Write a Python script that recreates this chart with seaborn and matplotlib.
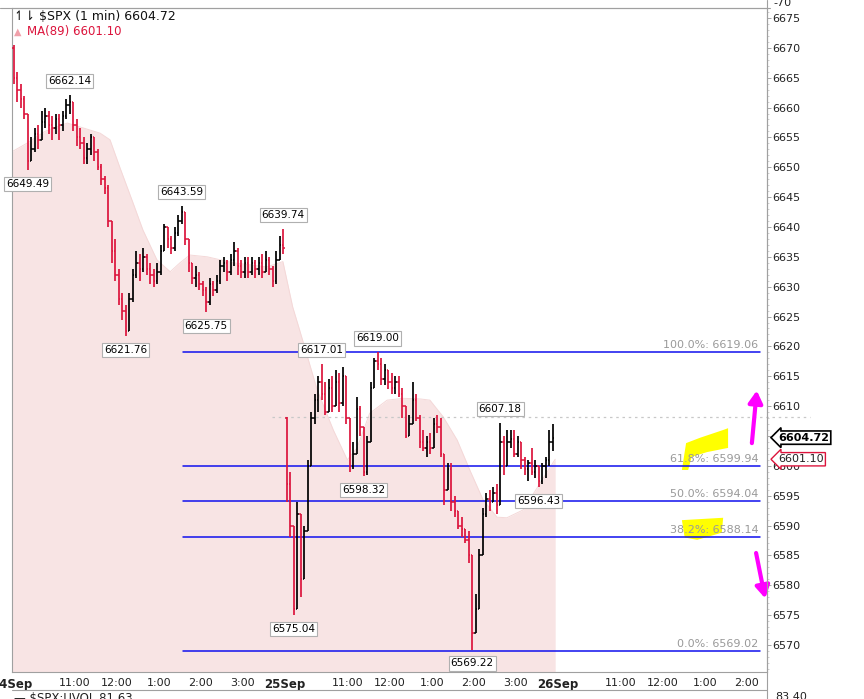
import numpy as np
import pandas as pd
import seaborn as sns
import matplotlib.pyplot as plt
from matplotlib.lines import Line2D
from matplotlib.ticker import MultipleLocator

# $SPX, 5-minute bars. 24 Sep session
day1_open = 6670
day1_close = [6665, 6663, 6661.5, 6659, 6651, 6653, 6655.5, 6654.5, 6657.5, 6658.5,
              6657, 6656.5, 6658, 6657, 6658.5, 6660.5, 6661, 6657, 6655, 6654,
              6651.5, 6653, 6655, 6652.5, 6650, 6648, 6646.5, 6641, 6636, 6632,
              6628, 6626, 6622.5, 6628, 6632, 6634, 6633, 6635, 6633, 6632,
              6631, 6632.5, 6636, 6640, 6638, 6636.5, 6639, 6641, 6642.5, 6638,
              6634, 6631.5, 6632, 6630.5, 6629.5, 6627.5, 6630.5, 6629.5, 6631, 6633.5,
              6634, 6632.5, 6634.5, 6636, 6633.5, 6632.5, 6634, 6632.5, 6634, 6633,
              6634, 6632.5, 6634.5, 6633, 6631, 6634.5, 6637, 6636.5]
day1_high = [6670.5, 6666, 6664, 6662, 6659, 6655, 6656.5, 6657, 6659.5, 6660,
             6659.5, 6658.5, 6659, 6659, 6659.5, 6661.5, 6662.14, 6661, 6658, 6656.5,
             6655, 6654, 6655.5, 6655, 6653, 6650.5, 6648.5, 6647, 6641, 6638,
             6633, 6629, 6627, 6629, 6633, 6636, 6635.5, 6636.5, 6635.5, 6634,
             6633, 6634, 6637, 6640.5, 6640, 6638.5, 6640, 6642, 6643.59, 6642.5,
             6638, 6634, 6633.5, 6632.5, 6631, 6630, 6631.5, 6631, 6632, 6634.5,
             6635, 6634.5, 6635.5, 6637.5, 6636.5, 6634.5, 6635, 6635, 6635, 6634.5,
             6635, 6635.5, 6636, 6635, 6633.5, 6636, 6638.5, 6639.74]
day1_low = [6664, 6661, 6660, 6658, 6649.49, 6651, 6652.5, 6653, 6654.5, 6656.5,
            6655.5, 6654.5, 6655.5, 6654.5, 6656, 6658, 6659, 6656, 6653.5, 6653,
            6650.5, 6650.5, 6652, 6651, 6649.5, 6647, 6645.5, 6640, 6634, 6631,
            6627, 6624.5, 6621.76, 6622.5, 6627.5, 6631.5, 6631, 6632.5, 6632, 6630.5,
            6630, 6630.5, 6632, 6636, 6636.5, 6635.5, 6636, 6638.5, 6640.5, 6637,
            6632.5, 6630.5, 6630, 6629.5, 6628.5, 6625.75, 6627, 6628.5, 6629, 6630.5,
            6632.5, 6631, 6632, 6633.5, 6632, 6631.5, 6631.5, 6631.5, 6632, 6631.5,
            6632, 6631.5, 6632.5, 6632, 6630, 6630.5, 6634.5, 6635.5]

# 25 Sep session
day2_open = 6608
day2_close = [6597, 6590, 6576, 6592, 6581, 6589, 6600, 6608, 6611, 6614,
              6612, 6609, 6613, 6610, 6614, 6610.5, 6615, 6608, 6600, 6602,
              6609.5, 6606.5, 6599, 6604, 6613, 6617.5, 6617, 6614.5, 6616, 6614,
              6613, 6614, 6612, 6610, 6605, 6607, 6611, 6608, 6604, 6603,
              6604, 6603, 6607, 6606.5, 6602, 6596, 6599.5, 6594, 6592.5, 6590,
              6589.5, 6587.5, 6585, 6572, 6576, 6585, 6592, 6594.5, 6594, 6595.5,
              6593.5, 6604, 6600, 6604, 6604.5, 6602, 6604, 6601, 6599.5, 6600.5,
              6599, 6600, 6597.5, 6600, 6601, 6604, 6604.72]
day2_high = [6608.2, 6599, 6584, 6594, 6585, 6590, 6601, 6609, 6612, 6615,
             6617.01, 6614, 6614.5, 6615, 6616, 6615.5, 6616.5, 6615, 6608, 6604,
             6611.5, 6610, 6605, 6605, 6614, 6618, 6619.0, 6618, 6617, 6616,
             6615.5, 6615, 6615, 6613, 6609, 6608.5, 6614, 6612, 6608.5, 6606,
             6605, 6605.5, 6608, 6608.5, 6608, 6601, 6600.5, 6600.5, 6595, 6592.5,
             6591.5, 6589.5, 6589, 6584, 6578.5, 6586, 6593, 6595.5, 6596, 6596.5,
             6597, 6607.18, 6605, 6606, 6606, 6606, 6605, 6603, 6601.5, 6601,
             6603, 6601, 6599, 6600.5, 6601.5, 6606, 6607]
day2_low = [6594, 6588, 6575.04, 6580, 6578, 6582, 6589, 6600, 6607, 6609,
            6611, 6608.5, 6609.5, 6609, 6610, 6609, 6610, 6607, 6599, 6599.5,
            6603, 6605, 6598.32, 6598.5, 6605, 6613.5, 6616, 6613.5, 6613.5, 6612.8,
            6612, 6612, 6611.5, 6608, 6604.7, 6605, 6608, 6607.5, 6603, 6602.5,
            6601.5, 6602, 6603, 6605.5, 6601.5, 6593.5, 6596.5, 6592.5, 6591.5, 6589.5,
            6588, 6587, 6583.7, 6569.22, 6573.5, 6577, 6585.5, 6591.5, 6592.5, 6594,
            6592, 6597, 6598.5, 6602, 6603, 6601.5, 6601.5, 6599.5, 6598.5, 6597.5,
            6598.5, 6598, 6596.43, 6597, 6598, 6600, 6602.5]

# MA(89) (minutes since 24 Sep open)
ma_minute = [0, 21, 47, 79, 104, 126, 140, 154, 173, 187, 207, 226, 240, 254, 279,
             316, 364, 387, 401, 411, 436, 459, 479, 493, 511, 536, 559, 583, 597,
             616, 636, 654, 673, 693, 707, 730, 754, 776]
ma_value = [6652.6, 6654, 6656, 6657.4, 6656.5, 6655.7, 6654.6, 6650, 6644, 6639.5,
            6634.5, 6632.5, 6634, 6635.3, 6635, 6634, 6633.3, 6634.2, 6626.6, 6622.7,
            6612.7, 6606, 6601, 6603, 6608.8, 6611, 6611.3, 6611.2, 6611, 6608.2,
            6604.3, 6599.3, 6594.3, 6591.4, 6591.3, 6592.6, 6597, 6601.1]

# fibonacci retracement
fib_pct = ["100.0%", "61.8%", "50.0%", "38.2%", "0.0%"]
fib_val = [6619.06, 6599.94, 6594.04, 6588.14, 6569.02]
fib_start, fib_end = 244, 1069

# swing labels: (session, bar index, value, high/low)
swings = [(0, 4, 6649.49, "L"), (0, 16, 6662.14, "H"), (0, 32, 6621.76, "L"),
          (0, 48, 6643.59, "H"), (0, 55, 6625.75, "L"), (0, 77, 6639.74, "H"),
          (1, 2, 6575.04, "L"), (1, 10, 6617.01, "H"), (1, 22, 6598.32, "L"),
          (1, 26, 6619.00, "H"), (1, 53, 6569.22, "L"), (1, 61, 6607.18, "H"),
          (1, 72, 6596.43, "L")]

last_price = 6604.72
last_ma = 6601.10
ref_line = 6608.2

tick_minutes = [0, 90, 150, 210, 270, 330, 390, 480, 540, 600, 660, 720,
                780, 870, 930, 990, 1050]
tick_labels = ["24Sep", "11:00", "12:00", "1:00", "2:00", "3:00", "25Sep",
               "11:00", "12:00", "1:00", "2:00", "3:00", "26Sep",
               "11:00", "12:00", "1:00", "2:00"]

# hand-drawn markup on the chart
yellow1_m = [957, 963, 983, 1016, 1023, 1023, 993, 971, 966]
yellow1_p = [6599.3, 6603.8, 6604.7, 6606, 6606.3, 6603, 6602.3, 6601.5, 6599.3]
yellow2_m = [957, 1016, 1014, 979, 961]
yellow2_p = [6590.9, 6591.3, 6588.8, 6587.6, 6588]
arrow_up = [(1057, 6603.8), (1064, 6612.6)]
arrow_down = [(1063, 6585.4), (1076, 6577.8)]

SESSION = 390
BAR = 5

rows = []
sessions = [(day1_open, day1_close, day1_high, day1_low),
            (day2_open, day2_close, day2_high, day2_low)]
for d, (first, cl, hi, lo) in enumerate(sessions):
    prev = first
    for i, c in enumerate(cl):
        rows.append(dict(minute=d * SESSION + BAR * i + BAR / 2, open=prev,
                         high=max(hi[i], prev, c), low=min(lo[i], prev, c), close=c))
        prev = c
bars = pd.DataFrame(rows)
bars["color"] = np.where(bars["close"] >= bars["open"], "black", "#dc143c")

sns.set_theme(style="white")
plt.rcParams["font.family"] = ["DejaVu Sans"]

fig = plt.figure(figsize=(8.64, 6.99), dpi=100)
ax = fig.add_axes([12 / 864, 1 - 672 / 699, 755 / 864, 664 / 699])

y_bottom, y_top = 6565.47, 6676.67
ax.set_xlim(0, 1078.6)
ax.set_ylim(y_bottom, y_top)

# MA shaded area
ax.fill_between(ma_minute, ma_value, y_bottom, color="#f8e4e4", lw=0, zorder=1)
sns.lineplot(x=ma_minute, y=ma_value, ax=ax, color="#f4d8d8", lw=0.7, zorder=1.2)

# yellow highlighter
ax.fill(yellow1_m, yellow1_p, color="#ffff00", lw=0, zorder=1.5)
ax.fill(yellow2_m, yellow2_p, color="#ffff00", lw=0, zorder=1.5)

# reference dotted line
ax.plot([371, 1140], [ref_line, ref_line], color="#c8c8c8", lw=0.9,
        ls=(0, (2, 3)), clip_on=False, zorder=1.6)

# fib lines
for pct, v in zip(fib_pct, fib_val):
    ax.plot([fib_start, fib_end], [v, v], color="#1010ee", lw=1.1, zorder=2)
    ax.annotate(f"{pct}: {v:.2f}", xy=(1066, v), xytext=(0, 1.5),
                textcoords="offset points", ha="right", va="bottom",
                fontsize=8, color="#999999", zorder=3)

# OHLC bars
tick = 2.0
ax.vlines(bars["minute"], bars["low"], bars["high"], colors=bars["color"], lw=1.25, zorder=4)
ax.hlines(bars["open"], bars["minute"] - tick, bars["minute"], colors=bars["color"], lw=1.1, zorder=4)
ax.hlines(bars["close"], bars["minute"], bars["minute"] + tick, colors=bars["color"], lw=1.1, zorder=4)

# swing labels
for d, i, v, kind in swings:
    m = d * SESSION + BAR * i + BAR / 2
    dy = 10 if kind == "H" else -10
    ax.annotate(f"{v:.2f}", xy=(m, v), xytext=(0, dy), textcoords="offset points",
                ha="center", va="center", fontsize=7.5, color="black", zorder=6,
                bbox=dict(boxstyle="square,pad=0.2", fc="white", ec="#b0b0b0", lw=0.8))

# magenta arrows
for (t0, t1) in [arrow_up, arrow_down]:
    ax.annotate("", xy=t1, xytext=t0, annotation_clip=False, zorder=7,
                arrowprops=dict(arrowstyle="-|>,head_length=0.6,head_width=0.35",
                                color="#ff00ff", lw=3, shrinkA=0, shrinkB=0))

# right axis
ax.yaxis.tick_right()
ax.yaxis.set_major_locator(MultipleLocator(5))
ax.yaxis.set_minor_locator(MultipleLocator(1))
ax.yaxis.set_major_formatter(lambda v, p: f"{v:.0f}")
ax.tick_params(axis="y", which="major", right=True, length=3, width=0.6, color="#999999",
               labelsize=8, pad=1, labelcolor="#222222")
ax.tick_params(axis="y", which="minor", right=True, length=1.5, width=0.5, color="#bbbbbb")

ax.set_xticks(tick_minutes)
ax.set_xticklabels(tick_labels)
ax.tick_params(axis="x", length=0, pad=4, labelsize=8, labelcolor="#222222")
for lab in ax.get_xticklabels():
    if "Sep" in lab.get_text():
        lab.set_fontweight("bold")
        lab.set_fontsize(8.5)

for s in ax.spines.values():
    s.set_color("#a0a0a0")
    s.set_linewidth(0.8)

# price tags on the axis
ax.annotate(f"{last_price:.2f}", xy=(1.0, last_price), xycoords=("axes fraction", "data"),
            xytext=(8, 0), textcoords="offset points", ha="left", va="center",
            fontsize=8, fontweight="bold", color="black", annotation_clip=False, zorder=8,
            bbox=dict(boxstyle="larrow,pad=0.15", fc="white", ec="black", lw=1.2))
ax.annotate(f"{last_ma:.2f}", xy=(1.0, last_ma), xycoords=("axes fraction", "data"),
            xytext=(8, 0), textcoords="offset points", ha="left", va="center",
            fontsize=8, color="#222222", annotation_clip=False, zorder=8,
            bbox=dict(boxstyle="larrow,pad=0.15", fc="white", ec="#dc143c", lw=1.0))

# header
fig.text(14 / 864, 1 - 17 / 699, f"\u21bf\u21c2 $SPX (1 min) {last_price:.2f}",
         fontsize=9, va="center", ha="left", color="#111111")
fig.text(14 / 864, 1 - 32 / 699, "\u25b2", fontsize=7, va="center", ha="left", color="#f0a0aa")
fig.text(27 / 864, 1 - 32 / 699, f"MA(89) {last_ma:.2f}", fontsize=8.5, va="center",
         ha="left", color="#dc143c")

# neighbouring panels
fig.add_artist(Line2D([0, 770 / 864], [1 - 8 / 699] * 2, color="#a0a0a0", lw=0.8))
fig.add_artist(Line2D([12 / 864, 767 / 864], [1 - 690 / 699] * 2, color="#a0a0a0", lw=0.8))
fig.add_artist(Line2D([767 / 864] * 2, [0, 1], color="#a0a0a0", lw=0.8))
fig.text(773 / 864, 1 - 3 / 699, "-70", fontsize=8, va="center", ha="left", color="#222222")
fig.text(14 / 864, 1 - 692 / 699, "\u2014 $SPX:UVOL 81.63", fontsize=8.5, va="top",
         ha="left", color="#222222")
fig.text(775 / 864, 1 - 692 / 699, "83.40", fontsize=8, va="top", ha="left", color="#222222")

fig.savefig("out.png", dpi=100)
